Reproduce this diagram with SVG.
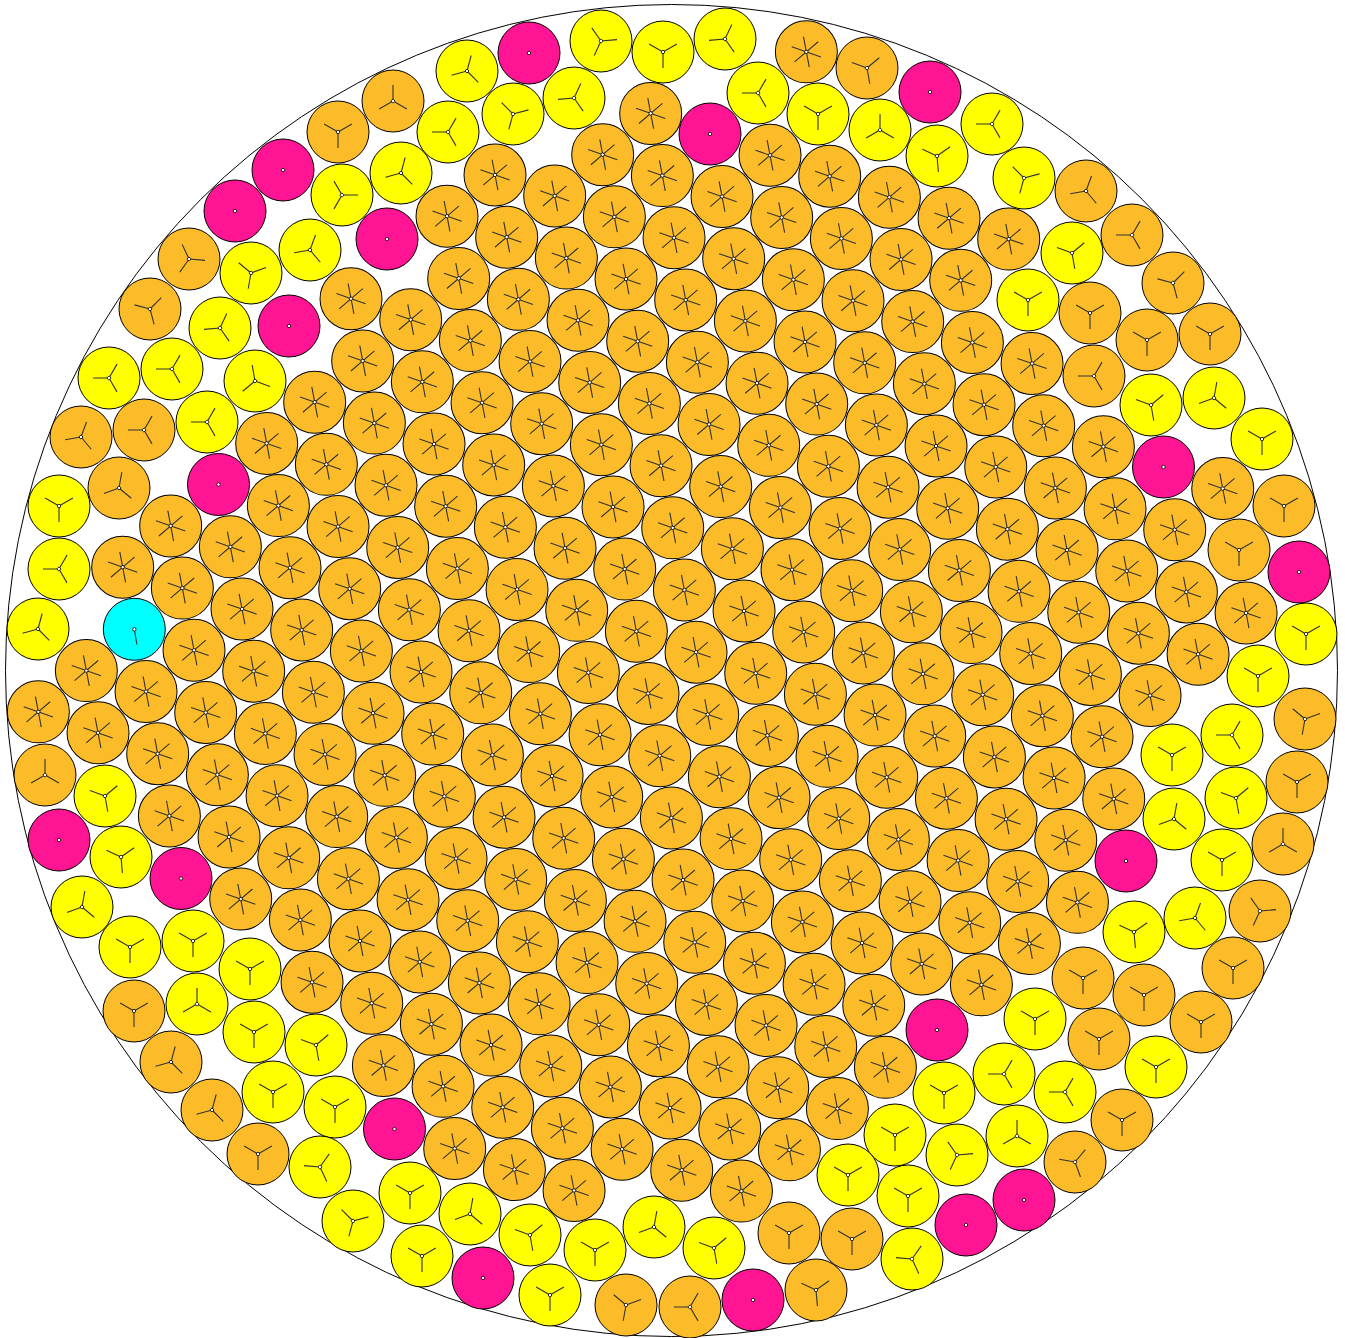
<svg xmlns="http://www.w3.org/2000/svg" width="1345" height="1338" viewBox="0 0 1345 1338">
<style>
.c{stroke:#000;stroke-width:1}
.o{fill:#FCBC2A}.y{fill:#FFFF00}.m{fill:#FF1493}.k{fill:#00FFFF}
.s{stroke:#333;stroke-width:1.1;fill:none}
.d{fill:#fff;stroke:#000;stroke-width:0.8}
</style>
<defs>
<g id="L">
<circle class="c o" r="31"/>
<path class="s" d="M-14.6,-5.1L14.6,5.1M-2.9,-15.2L2.9,15.2M11.8,-10.1L-11.8,10.1"/>
<circle class="d" r="1.7"/>
</g>
<g id="Lq"><g transform="matrix(0.0179407 -0.0060427 -0.003366 0.0172109 0 0)"><use href="#L"/></g></g>
<g id="Y"><path class="s" d="M0,0V16M0,0L-13.9,-8M0,0L13.9,-8"/><circle class="d" r="1.7"/></g>
<circle id="D" class="d" r="1.7"/>
</defs>
<rect width="1345" height="1338" fill="#fff"/>
<circle cx="671.5" cy="670.5" r="666" fill="#fff" stroke="#000" stroke-width="1"/>
<g id="lattice" transform="matrix(59.67 20.95 11.67 62.2 493.7 465)">
<use href="#Lq" x="7" y="-9"/>
<use href="#Lq" x="4" y="-7"/><use href="#Lq" x="6" y="-7"/><use href="#Lq" x="7" y="-7"/><use href="#Lq" x="8" y="-7"/><use href="#Lq" x="9" y="-7"/><use href="#Lq" x="10" y="-7"/>
<use href="#Lq" x="3" y="-6"/><use href="#Lq" x="4" y="-6"/><use href="#Lq" x="5" y="-6"/><use href="#Lq" x="6" y="-6"/><use href="#Lq" x="7" y="-6"/><use href="#Lq" x="8" y="-6"/><use href="#Lq" x="9" y="-6"/>
<use href="#Lq" x="1" y="-5"/><use href="#Lq" x="2" y="-5"/><use href="#Lq" x="3" y="-5"/><use href="#Lq" x="4" y="-5"/><use href="#Lq" x="5" y="-5"/><use href="#Lq" x="6" y="-5"/><use href="#Lq" x="7" y="-5"/><use href="#Lq" x="8" y="-5"/><use href="#Lq" x="9" y="-5"/><use href="#Lq" x="10" y="-5"/>
<use href="#Lq" x="0" y="-4"/><use href="#Lq" x="1" y="-4"/><use href="#Lq" x="2" y="-4"/><use href="#Lq" x="3" y="-4"/><use href="#Lq" x="4" y="-4"/><use href="#Lq" x="5" y="-4"/><use href="#Lq" x="6" y="-4"/><use href="#Lq" x="7" y="-4"/><use href="#Lq" x="8" y="-4"/><use href="#Lq" x="9" y="-4"/><use href="#Lq" x="10" y="-4"/><use href="#Lq" x="11" y="-4"/><use href="#Lq" x="13" y="-4"/>
<use href="#Lq" x="0" y="-3"/><use href="#Lq" x="1" y="-3"/><use href="#Lq" x="2" y="-3"/><use href="#Lq" x="3" y="-3"/><use href="#Lq" x="4" y="-3"/><use href="#Lq" x="5" y="-3"/><use href="#Lq" x="6" y="-3"/><use href="#Lq" x="7" y="-3"/><use href="#Lq" x="8" y="-3"/><use href="#Lq" x="9" y="-3"/><use href="#Lq" x="10" y="-3"/><use href="#Lq" x="11" y="-3"/><use href="#Lq" x="12" y="-3"/>
<use href="#Lq" x="-2" y="-2"/><use href="#Lq" x="-1" y="-2"/><use href="#Lq" x="0" y="-2"/><use href="#Lq" x="1" y="-2"/><use href="#Lq" x="2" y="-2"/><use href="#Lq" x="3" y="-2"/><use href="#Lq" x="4" y="-2"/><use href="#Lq" x="5" y="-2"/><use href="#Lq" x="6" y="-2"/><use href="#Lq" x="7" y="-2"/><use href="#Lq" x="8" y="-2"/><use href="#Lq" x="9" y="-2"/><use href="#Lq" x="10" y="-2"/><use href="#Lq" x="11" y="-2"/><use href="#Lq" x="12" y="-2"/><use href="#Lq" x="13" y="-2"/>
<use href="#Lq" x="-2" y="-1"/><use href="#Lq" x="-1" y="-1"/><use href="#Lq" x="0" y="-1"/><use href="#Lq" x="1" y="-1"/><use href="#Lq" x="2" y="-1"/><use href="#Lq" x="3" y="-1"/><use href="#Lq" x="4" y="-1"/><use href="#Lq" x="5" y="-1"/><use href="#Lq" x="6" y="-1"/><use href="#Lq" x="7" y="-1"/><use href="#Lq" x="8" y="-1"/><use href="#Lq" x="9" y="-1"/><use href="#Lq" x="10" y="-1"/><use href="#Lq" x="11" y="-1"/><use href="#Lq" x="12" y="-1"/>
<use href="#Lq" x="-3" y="0"/><use href="#Lq" x="-2" y="0"/><use href="#Lq" x="-1" y="0"/><use href="#Lq" x="0" y="0"/><use href="#Lq" x="1" y="0"/><use href="#Lq" x="2" y="0"/><use href="#Lq" x="3" y="0"/><use href="#Lq" x="4" y="0"/><use href="#Lq" x="5" y="0"/><use href="#Lq" x="6" y="0"/><use href="#Lq" x="7" y="0"/><use href="#Lq" x="8" y="0"/><use href="#Lq" x="9" y="0"/><use href="#Lq" x="10" y="0"/><use href="#Lq" x="11" y="0"/>
<use href="#Lq" x="-4" y="1"/><use href="#Lq" x="-3" y="1"/><use href="#Lq" x="-2" y="1"/><use href="#Lq" x="-1" y="1"/><use href="#Lq" x="0" y="1"/><use href="#Lq" x="1" y="1"/><use href="#Lq" x="2" y="1"/><use href="#Lq" x="3" y="1"/><use href="#Lq" x="4" y="1"/><use href="#Lq" x="5" y="1"/><use href="#Lq" x="6" y="1"/><use href="#Lq" x="7" y="1"/><use href="#Lq" x="8" y="1"/><use href="#Lq" x="9" y="1"/><use href="#Lq" x="10" y="1"/>
<use href="#Lq" x="-4" y="2"/><use href="#Lq" x="-3" y="2"/><use href="#Lq" x="-2" y="2"/><use href="#Lq" x="-1" y="2"/><use href="#Lq" x="0" y="2"/><use href="#Lq" x="1" y="2"/><use href="#Lq" x="2" y="2"/><use href="#Lq" x="3" y="2"/><use href="#Lq" x="4" y="2"/><use href="#Lq" x="5" y="2"/><use href="#Lq" x="6" y="2"/><use href="#Lq" x="7" y="2"/><use href="#Lq" x="8" y="2"/><use href="#Lq" x="9" y="2"/><use href="#Lq" x="10" y="2"/>
<use href="#Lq" x="-6" y="3"/><use href="#Lq" x="-5" y="3"/><use href="#Lq" x="-4" y="3"/><use href="#Lq" x="-3" y="3"/><use href="#Lq" x="-2" y="3"/><use href="#Lq" x="-1" y="3"/><use href="#Lq" x="0" y="3"/><use href="#Lq" x="1" y="3"/><use href="#Lq" x="2" y="3"/><use href="#Lq" x="3" y="3"/><use href="#Lq" x="4" y="3"/><use href="#Lq" x="5" y="3"/><use href="#Lq" x="6" y="3"/><use href="#Lq" x="7" y="3"/><use href="#Lq" x="8" y="3"/><use href="#Lq" x="9" y="3"/>
<use href="#Lq" x="-7" y="4"/><use href="#Lq" x="-6" y="4"/><use href="#Lq" x="-5" y="4"/><use href="#Lq" x="-4" y="4"/><use href="#Lq" x="-3" y="4"/><use href="#Lq" x="-2" y="4"/><use href="#Lq" x="-1" y="4"/><use href="#Lq" x="0" y="4"/><use href="#Lq" x="1" y="4"/><use href="#Lq" x="2" y="4"/><use href="#Lq" x="3" y="4"/><use href="#Lq" x="4" y="4"/><use href="#Lq" x="5" y="4"/><use href="#Lq" x="6" y="4"/><use href="#Lq" x="7" y="4"/><use href="#Lq" x="8" y="4"/><use href="#Lq" x="9" y="4"/>
<use href="#Lq" x="-6" y="5"/><use href="#Lq" x="-5" y="5"/><use href="#Lq" x="-4" y="5"/><use href="#Lq" x="-3" y="5"/><use href="#Lq" x="-2" y="5"/><use href="#Lq" x="-1" y="5"/><use href="#Lq" x="0" y="5"/><use href="#Lq" x="1" y="5"/><use href="#Lq" x="2" y="5"/><use href="#Lq" x="3" y="5"/><use href="#Lq" x="4" y="5"/><use href="#Lq" x="5" y="5"/><use href="#Lq" x="6" y="5"/><use href="#Lq" x="7" y="5"/><use href="#Lq" x="8" y="5"/>
<use href="#Lq" x="-8" y="6"/><use href="#Lq" x="-7" y="6"/><use href="#Lq" x="-6" y="6"/><use href="#Lq" x="-5" y="6"/><use href="#Lq" x="-4" y="6"/><use href="#Lq" x="-3" y="6"/><use href="#Lq" x="-2" y="6"/><use href="#Lq" x="-1" y="6"/><use href="#Lq" x="0" y="6"/><use href="#Lq" x="1" y="6"/><use href="#Lq" x="2" y="6"/><use href="#Lq" x="3" y="6"/><use href="#Lq" x="4" y="6"/><use href="#Lq" x="5" y="6"/><use href="#Lq" x="6" y="6"/><use href="#Lq" x="7" y="6"/>
<use href="#Lq" x="-9" y="7"/><use href="#Lq" x="-8" y="7"/><use href="#Lq" x="-7" y="7"/><use href="#Lq" x="-6" y="7"/><use href="#Lq" x="-5" y="7"/><use href="#Lq" x="-4" y="7"/><use href="#Lq" x="-3" y="7"/><use href="#Lq" x="-2" y="7"/><use href="#Lq" x="-1" y="7"/><use href="#Lq" x="0" y="7"/><use href="#Lq" x="1" y="7"/><use href="#Lq" x="2" y="7"/><use href="#Lq" x="3" y="7"/><use href="#Lq" x="4" y="7"/><use href="#Lq" x="5" y="7"/>
<use href="#Lq" x="-7" y="8"/><use href="#Lq" x="-6" y="8"/><use href="#Lq" x="-5" y="8"/><use href="#Lq" x="-4" y="8"/><use href="#Lq" x="-3" y="8"/><use href="#Lq" x="-2" y="8"/><use href="#Lq" x="-1" y="8"/><use href="#Lq" x="0" y="8"/><use href="#Lq" x="1" y="8"/><use href="#Lq" x="2" y="8"/><use href="#Lq" x="3" y="8"/><use href="#Lq" x="4" y="8"/><use href="#Lq" x="5" y="8"/>
<use href="#Lq" x="-6" y="9"/><use href="#Lq" x="-5" y="9"/><use href="#Lq" x="-4" y="9"/><use href="#Lq" x="-3" y="9"/><use href="#Lq" x="-2" y="9"/><use href="#Lq" x="-1" y="9"/><use href="#Lq" x="0" y="9"/><use href="#Lq" x="1" y="9"/><use href="#Lq" x="2" y="9"/><use href="#Lq" x="3" y="9"/><use href="#Lq" x="4" y="9"/>
<use href="#Lq" x="-5" y="10"/><use href="#Lq" x="-4" y="10"/><use href="#Lq" x="-3" y="10"/><use href="#Lq" x="-2" y="10"/><use href="#Lq" x="-1" y="10"/><use href="#Lq" x="0" y="10"/><use href="#Lq" x="1" y="10"/><use href="#Lq" x="2" y="10"/><use href="#Lq" x="3" y="10"/>
<use href="#Lq" x="-4" y="11"/><use href="#Lq" x="-3" y="11"/><use href="#Lq" x="-2" y="11"/><use href="#Lq" x="-1" y="11"/><use href="#Lq" x="0" y="11"/><use href="#Lq" x="1" y="11"/><use href="#Lq" x="2" y="11"/>
<use href="#Lq" x="-3" y="12"/><use href="#Lq" x="-2" y="12"/><use href="#Lq" x="-1" y="12"/>
</g>
<g id="edge-orange">
<circle class="c o" cx="393" cy="101" r="31"/><use href="#Y" transform="translate(393 101) rotate(60)"/>
<circle class="c o" cx="338" cy="132" r="31"/><use href="#Y" transform="translate(338 132) rotate(0)"/>
<circle class="c o" cx="189" cy="259" r="31"/><use href="#Y" transform="translate(189 259) rotate(35)"/>
<circle class="c o" cx="150" cy="309" r="31"/><use href="#Y" transform="translate(150 309) rotate(-15)"/>
<circle class="c o" cx="81" cy="437" r="31"/><use href="#Y" transform="translate(81 437) rotate(-40)"/>
<circle class="c o" cx="144" cy="430" r="31"/><use href="#Y" transform="translate(144 430) rotate(-30)"/>
<circle class="c o" cx="867" cy="68" r="31"/><use href="#Y" transform="translate(867 68) rotate(-10)"/>
<circle class="c o" cx="1086" cy="191" r="31"/><use href="#Y" transform="translate(1086 191) rotate(-40)"/>
<circle class="c o" cx="1132" cy="235" r="31"/><use href="#Y" transform="translate(1132 235) rotate(-30)"/>
<circle class="c o" cx="1173" cy="283" r="31"/><use href="#Y" transform="translate(1173 283) rotate(-15)"/>
<circle class="c o" cx="1210" cy="334" r="31"/><use href="#Y" transform="translate(1210 334) rotate(0)"/>
<circle class="c o" cx="1090" cy="313" r="31"/><use href="#Y" transform="translate(1090 313) rotate(0)"/>
<circle class="c o" cx="1147" cy="340" r="31"/><use href="#Y" transform="translate(1147 340) rotate(0)"/>
<circle class="c o" cx="1094" cy="376" r="31"/><use href="#Y" transform="translate(1094 376) rotate(-30)"/>
<circle class="c o" cx="1284" cy="506" r="31"/><use href="#Y" transform="translate(1284 506) rotate(0)"/>
<circle class="c o" cx="1239" cy="550" r="31"/><use href="#Y" transform="translate(1239 550) rotate(0)"/>
<circle class="c o" cx="1305" cy="719" r="31"/><use href="#Y" transform="translate(1305 719) rotate(10)"/>
<circle class="c o" cx="1297" cy="782" r="31"/><use href="#Y" transform="translate(1297 782) rotate(0)"/>
<circle class="c o" cx="1283" cy="844" r="31"/><use href="#Y" transform="translate(1283 844) rotate(-60)"/>
<circle class="c o" cx="1260" cy="911" r="31"/><use href="#Y" transform="translate(1260 911) rotate(25)"/>
<circle class="c o" cx="1233" cy="968" r="31"/><use href="#Y" transform="translate(1233 968) rotate(0)"/>
<circle class="c o" cx="1083" cy="978" r="31"/><use href="#Y" transform="translate(1083 978) rotate(0)"/>
<circle class="c o" cx="1144" cy="995" r="31"/><use href="#Y" transform="translate(1144 995) rotate(0)"/>
<circle class="c o" cx="1201" cy="1022" r="31"/><use href="#Y" transform="translate(1201 1022) rotate(0)"/>
<circle class="c o" cx="1099" cy="1039" r="31"/><use href="#Y" transform="translate(1099 1039) rotate(0)"/>
<circle class="c o" cx="1122" cy="1120" r="31"/><use href="#Y" transform="translate(1122 1120) rotate(0)"/>
<circle class="c o" cx="1075" cy="1162" r="31"/><use href="#Y" transform="translate(1075 1162) rotate(-20)"/>
<circle class="c o" cx="789" cy="1233" r="31"/><use href="#Y" transform="translate(789 1233) rotate(0)"/>
<circle class="c o" cx="852" cy="1239" r="31"/><use href="#Y" transform="translate(852 1239) rotate(0)"/>
<circle class="c o" cx="626" cy="1305" r="31"/><use href="#Y" transform="translate(626 1305) rotate(10)"/>
<circle class="c o" cx="690" cy="1307" r="31"/><use href="#Y" transform="translate(690 1307) rotate(-30)"/>
<circle class="c o" cx="816" cy="1290" r="31"/><use href="#Y" transform="translate(816 1290) rotate(-5)"/>
<circle class="c o" cx="134" cy="1011" r="31"/><use href="#Y" transform="translate(134 1011) rotate(0)"/>
<circle class="c o" cx="171" cy="1062" r="31"/><use href="#Y" transform="translate(171 1062) rotate(-45)"/>
<circle class="c o" cx="212" cy="1110" r="31"/><use href="#Y" transform="translate(212 1110) rotate(-45)"/>
<circle class="c o" cx="258" cy="1154" r="31"/><use href="#Y" transform="translate(258 1154) rotate(0)"/>
<circle class="c o" cx="119" cy="488" r="31"/><use href="#Y" transform="translate(119 488) rotate(-50)"/>
<circle class="c o" cx="45" cy="775" r="31"/><use href="#Y" transform="translate(45 775) rotate(-60)"/>
</g>
<g id="yellow">
<circle class="c y" cx="467" cy="71" r="31"/><use href="#Y" transform="translate(467 71) rotate(-45)"/>
<circle class="c y" cx="448" cy="132" r="31"/><use href="#Y" transform="translate(448 132) rotate(-30)"/>
<circle class="c y" cx="342" cy="195" r="31"/><use href="#Y" transform="translate(342 195) rotate(30)"/>
<circle class="c y" cx="401" cy="173" r="31"/><use href="#Y" transform="translate(401 173) rotate(-45)"/>
<circle class="c y" cx="310" cy="250" r="31"/><use href="#Y" transform="translate(310 250) rotate(-40)"/>
<circle class="c y" cx="251" cy="273" r="31"/><use href="#Y" transform="translate(251 273) rotate(10)"/>
<circle class="c y" cx="220" cy="328" r="31"/><use href="#Y" transform="translate(220 328) rotate(-35)"/>
<circle class="c y" cx="109" cy="378" r="31"/><use href="#Y" transform="translate(109 378) rotate(-30)"/>
<circle class="c y" cx="172" cy="369" r="31"/><use href="#Y" transform="translate(172 369) rotate(-30)"/>
<circle class="c y" cx="255" cy="381" r="31"/><use href="#Y" transform="translate(255 381) rotate(50)"/>
<circle class="c y" cx="207" cy="422" r="31"/><use href="#Y" transform="translate(207 422) rotate(-30)"/>
<circle class="c y" cx="601" cy="41" r="31"/><use href="#Y" transform="translate(601 41) rotate(25)"/>
<circle class="c y" cx="663" cy="52" r="31"/><use href="#Y" transform="translate(663 52) rotate(0)"/>
<circle class="c y" cx="725" cy="39" r="31"/><use href="#Y" transform="translate(725 39) rotate(-35)"/>
<circle class="c y" cx="513" cy="114" r="31"/><use href="#Y" transform="translate(513 114) rotate(15)"/>
<circle class="c y" cx="574" cy="98" r="31"/><use href="#Y" transform="translate(574 98) rotate(-35)"/>
<circle class="c y" cx="758" cy="93" r="31"/><use href="#Y" transform="translate(758 93) rotate(-30)"/>
<circle class="c y" cx="818" cy="114" r="31"/><use href="#Y" transform="translate(818 114) rotate(0)"/>
<circle class="c y" cx="880" cy="130" r="31"/><use href="#Y" transform="translate(880 130) rotate(-60)"/>
<circle class="c y" cx="937" cy="156" r="31"/><use href="#Y" transform="translate(937 156) rotate(-5)"/>
<circle class="c y" cx="992" cy="124" r="31"/><use href="#Y" transform="translate(992 124) rotate(-30)"/>
<circle class="c y" cx="1024" cy="178" r="31"/><use href="#Y" transform="translate(1024 178) rotate(15)"/>
<circle class="c y" cx="1072" cy="253" r="31"/><use href="#Y" transform="translate(1072 253) rotate(-10)"/>
<circle class="c y" cx="1028" cy="300" r="31"/><use href="#Y" transform="translate(1028 300) rotate(0)"/>
<circle class="c y" cx="1151" cy="405" r="31"/><use href="#Y" transform="translate(1151 405) rotate(-10)"/>
<circle class="c y" cx="1214" cy="398" r="31"/><use href="#Y" transform="translate(1214 398) rotate(-50)"/>
<circle class="c y" cx="1262" cy="439" r="31"/><use href="#Y" transform="translate(1262 439) rotate(0)"/>
<circle class="c y" cx="1306" cy="634" r="31"/><use href="#Y" transform="translate(1306 634) rotate(0)"/>
<circle class="c y" cx="1258" cy="676" r="31"/><use href="#Y" transform="translate(1258 676) rotate(0)"/>
<circle class="c y" cx="1232" cy="735" r="31"/><use href="#Y" transform="translate(1232 735) rotate(-30)"/>
<circle class="c y" cx="1172" cy="755" r="31"/><use href="#Y" transform="translate(1172 755) rotate(0)"/>
<circle class="c y" cx="1236" cy="798" r="31"/><use href="#Y" transform="translate(1236 798) rotate(-10)"/>
<circle class="c y" cx="1174" cy="819" r="31"/><use href="#Y" transform="translate(1174 819) rotate(-50)"/>
<circle class="c y" cx="1222" cy="860" r="31"/><use href="#Y" transform="translate(1222 860) rotate(0)"/>
<circle class="c y" cx="1134" cy="932" r="31"/><use href="#Y" transform="translate(1134 932) rotate(-5)"/>
<circle class="c y" cx="1195" cy="918" r="31"/><use href="#Y" transform="translate(1195 918) rotate(-40)"/>
<circle class="c y" cx="1035" cy="1019" r="31"/><use href="#Y" transform="translate(1035 1019) rotate(0)"/>
<circle class="c y" cx="1156" cy="1067" r="31"/><use href="#Y" transform="translate(1156 1067) rotate(0)"/>
<circle class="c y" cx="1004" cy="1074" r="31"/><use href="#Y" transform="translate(1004 1074) rotate(-30)"/>
<circle class="c y" cx="944" cy="1093" r="31"/><use href="#Y" transform="translate(944 1093) rotate(0)"/>
<circle class="c y" cx="1065" cy="1092" r="31"/><use href="#Y" transform="translate(1065 1092) rotate(-30)"/>
<circle class="c y" cx="957" cy="1155" r="31"/><use href="#Y" transform="translate(957 1155) rotate(25)"/>
<circle class="c y" cx="1017" cy="1136" r="31"/><use href="#Y" transform="translate(1017 1136) rotate(-60)"/>
<circle class="c y" cx="895" cy="1135" r="31"/><use href="#Y" transform="translate(895 1135) rotate(0)"/>
<circle class="c y" cx="908" cy="1196" r="31"/><use href="#Y" transform="translate(908 1196) rotate(0)"/>
<circle class="c y" cx="912" cy="1259" r="31"/><use href="#Y" transform="translate(912 1259) rotate(-25)"/>
<circle class="c y" cx="848" cy="1175" r="31"/><use href="#Y" transform="translate(848 1175) rotate(0)"/>
<circle class="c y" cx="470" cy="1214" r="31"/><use href="#Y" transform="translate(470 1214) rotate(-50)"/>
<circle class="c y" cx="530" cy="1235" r="31"/><use href="#Y" transform="translate(530 1235) rotate(-10)"/>
<circle class="c y" cx="595" cy="1250" r="31"/><use href="#Y" transform="translate(595 1250) rotate(0)"/>
<circle class="c y" cx="654" cy="1227" r="31"/><use href="#Y" transform="translate(654 1227) rotate(-50)"/>
<circle class="c y" cx="714" cy="1248" r="31"/><use href="#Y" transform="translate(714 1248) rotate(-10)"/>
<circle class="c y" cx="550" cy="1295" r="31"/><use href="#Y" transform="translate(550 1295) rotate(0)"/>
<circle class="c y" cx="82" cy="907" r="31"/><use href="#Y" transform="translate(82 907) rotate(-50)"/>
<circle class="c y" cx="130" cy="947" r="31"/><use href="#Y" transform="translate(130 947) rotate(0)"/>
<circle class="c y" cx="193" cy="941" r="31"/><use href="#Y" transform="translate(193 941) rotate(0)"/>
<circle class="c y" cx="250" cy="969" r="31"/><use href="#Y" transform="translate(250 969) rotate(0)"/>
<circle class="c y" cx="197" cy="1004" r="31"/><use href="#Y" transform="translate(197 1004) rotate(-60)"/>
<circle class="c y" cx="254" cy="1032" r="31"/><use href="#Y" transform="translate(254 1032) rotate(0)"/>
<circle class="c y" cx="316" cy="1045" r="31"/><use href="#Y" transform="translate(316 1045) rotate(-10)"/>
<circle class="c y" cx="273" cy="1092" r="31"/><use href="#Y" transform="translate(273 1092) rotate(0)"/>
<circle class="c y" cx="335" cy="1107" r="31"/><use href="#Y" transform="translate(335 1107) rotate(0)"/>
<circle class="c y" cx="320" cy="1167" r="31"/><use href="#Y" transform="translate(320 1167) rotate(-25)"/>
<circle class="c y" cx="410" cy="1193" r="31"/><use href="#Y" transform="translate(410 1193) rotate(0)"/>
<circle class="c y" cx="353" cy="1221" r="31"/><use href="#Y" transform="translate(353 1221) rotate(15)"/>
<circle class="c y" cx="422" cy="1256" r="31"/><use href="#Y" transform="translate(422 1256) rotate(0)"/>
<circle class="c y" cx="59" cy="506" r="31"/><use href="#Y" transform="translate(59 506) rotate(0)"/>
<circle class="c y" cx="59" cy="569" r="31"/><use href="#Y" transform="translate(59 569) rotate(-30)"/>
<circle class="c y" cx="38" cy="629" r="31"/><use href="#Y" transform="translate(38 629) rotate(-45)"/>
<circle class="c y" cx="105" cy="796" r="31"/><use href="#Y" transform="translate(105 796) rotate(-10)"/>
<circle class="c y" cx="121" cy="857" r="31"/><use href="#Y" transform="translate(121 857) rotate(-5)"/>
</g>
<g id="magenta">
<circle class="c m" cx="283" cy="170" r="31"/><use href="#D" x="283" y="170"/>
<circle class="c m" cx="235" cy="211" r="31"/><use href="#D" x="235" y="211"/>
<circle class="c m" cx="387" cy="239" r="31"/><use href="#D" x="387" y="239"/>
<circle class="c m" cx="289" cy="326" r="31"/><use href="#D" x="289" y="326"/>
<circle class="c m" cx="529" cy="53" r="31"/><use href="#D" x="529" y="53"/>
<circle class="c m" cx="710" cy="134" r="31"/><use href="#D" x="710" y="134"/>
<circle class="c m" cx="930" cy="92" r="31"/><use href="#D" x="930" y="92"/>
<circle class="c m" cx="1163.5" cy="467" r="31"/><use href="#D" x="1163.5" y="467"/>
<circle class="c m" cx="1299" cy="572" r="31"/><use href="#D" x="1299" y="572"/>
<circle class="c m" cx="1126" cy="861" r="31"/><use href="#D" x="1126" y="861"/>
<circle class="c m" cx="937" cy="1030" r="31"/><use href="#D" x="937" y="1030"/>
<circle class="c m" cx="1024" cy="1200" r="31"/><use href="#D" x="1024" y="1200"/>
<circle class="c m" cx="966" cy="1225" r="31"/><use href="#D" x="966" y="1225"/>
<circle class="c m" cx="753" cy="1300" r="31"/><use href="#D" x="753" y="1300"/>
<circle class="c m" cx="483" cy="1278" r="31"/><use href="#D" x="483" y="1278"/>
<circle class="c m" cx="394.5" cy="1129" r="31"/><use href="#D" x="394.5" y="1129"/>
<circle class="c m" cx="181" cy="878.5" r="31"/><use href="#D" x="181" y="878.5"/>
<circle class="c m" cx="59" cy="840" r="31"/><use href="#D" x="59" y="840"/>
<circle class="c m" cx="218.5" cy="484.5" r="31"/><use href="#D" x="218.5" y="484.5"/>
</g>
<g id="cyan">
<circle class="c k" cx="134.3" cy="629.3" r="31"/>
<path class="s" d="M134.3,629.3L136.9,644.5"/>
<use href="#D" x="134.3" y="629.3"/>
</g>
</svg>
